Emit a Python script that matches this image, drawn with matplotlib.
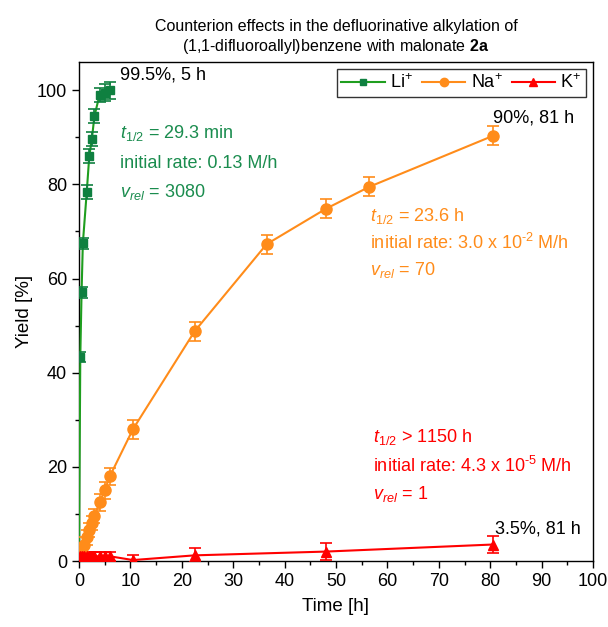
import numpy as np
import matplotlib.pyplot as plt

plt.rcParams['font.family'] = ['Liberation Sans', 'DejaVu Sans']
plt.rcParams['mathtext.fontset'] = 'custom'
plt.rcParams['mathtext.rm'] = 'Liberation Sans'
plt.rcParams['mathtext.it'] = 'Liberation Sans:italic'
plt.rcParams['mathtext.bf'] = 'Liberation Sans:bold'

# data
li_t = [0, 0.25, 0.5, 0.75, 1.5, 2, 2.5, 3, 4, 5, 6]
li_y = [0, 43.3, 57.1, 67.5, 78.3, 86.0, 89.6, 94.5, 99.0, 99.5, 100.0]
li_err = [0, 1.0, 1.2, 1.2, 1.5, 1.5, 1.5, 1.5, 1.5, 1.8, 1.8]

na_t = [0, 0.25, 0.5, 1, 1.5, 2, 2.5, 3, 4, 5, 6, 10.5, 22.5, 36.5, 48, 56.5, 80.5]
na_y = [0, 1.0, 2.0, 3.5, 5.0, 6.5, 8.0, 9.5, 12.5, 15.0, 18.0, 28.0, 48.8, 67.3, 74.8, 79.5, 90.3]
na_err = [0, 1.5, 1.5, 1.5, 1.5, 1.5, 1.5, 1.5, 1.8, 1.8, 1.8, 2.0, 2.0, 2.0, 2.0, 2.0, 2.0]

k_t = [0, 0.25, 0.5, 1, 1.5, 2, 2.5, 3, 4, 5, 6, 10.5, 22.5, 48, 80.5]
k_y = [0, 1.0, 1.0, 1.0, 1.0, 1.0, 1.0, 1.0, 1.0, 1.0, 1.0, 0.2, 1.2, 2.0, 3.5]
k_err = [0, 1.0, 1.0, 1.0, 1.0, 1.0, 1.0, 1.0, 1.0, 1.0, 1.0, 1.0, 1.5, 1.8, 1.8]

fig = plt.figure(figsize=(6.08, 6.27), dpi=100)
ax = fig.add_axes([79/608, 1-561/627, 514/608, 499/627])

green_line = '#1f9e1f'
green = '#0f8040'
green_txt = '#1a8c4e'
orange = '#ff8c1a'
red = '#ff0000'

ax.plot(li_t, li_y, color=green_line, lw=1.5, zorder=3)
ax.errorbar(li_t[1:], li_y[1:], yerr=li_err[1:], fmt='s', ms=6, color=green,
            ecolor=green, elinewidth=1.2, capsize=4, capthick=1.2, zorder=4)

ax.errorbar(na_t, na_y, yerr=na_err, fmt='-o', ms=8, color=orange, lw=1.5,
            elinewidth=1.2, capsize=4, capthick=1.2, zorder=3)

ax.errorbar(k_t, k_y, yerr=k_err, fmt='-^', ms=7, color=red, lw=1.5,
            elinewidth=1.2, capsize=4, capthick=1.2, zorder=3)

# legend handles without error bars
ax.plot([], [], color=green_line, lw=1.5, marker='s', ms=5, mfc=green, mec=green, label='Li$^{+}$')
ax.plot([], [], color=orange, lw=1.5, marker='o', ms=6, label='Na$^{+}$')
ax.plot([], [], color=red, lw=1.5, marker='^', ms=6, label='K$^{+}$')

ax.set_xlim(0, 100)
ax.set_ylim(0, 106)
ax.set_xticks(np.arange(0, 101, 10))
ax.set_xticks(np.arange(0, 101, 5), minor=True)
ax.set_yticks(np.arange(0, 101, 20))
ax.set_yticks(np.arange(0, 101, 10), minor=True)
ax.tick_params(which='major', direction='out', length=5, width=1, labelsize=13)
ax.tick_params(which='minor', direction='out', length=3, width=1)
for s in ax.spines.values():
    s.set_linewidth(1.0)

ax.set_xlabel('Time [h]', fontsize=13.5, labelpad=6)
ax.set_ylabel('Yield [%]', fontsize=13.5, labelpad=3)
ax.set_title('Counterion effects in the defluorinative alkylation of\n'
             '(1,1-difluoroallyl)benzene with malonate $\\mathbf{2a}$',
             fontsize=11.5, pad=8)

leg = ax.legend(loc='upper right', ncol=3, frameon=True, fancybox=False,
                edgecolor='black', fontsize=13, handlelength=2.4,
                columnspacing=0.5, handletextpad=0.3, borderpad=0.25,
                borderaxespad=0.4)
leg.get_frame().set_linewidth(1.0)

fs = 13
ax.text(7.9, 103.2, '99.5%, 5 h', fontsize=fs, va='center')
ax.text(7.9, 91.0, '$t_{\\mathit{1/2}}$ = 29.3 min', fontsize=fs, color=green_txt, va='center')
ax.text(7.9, 84.5, 'initial rate: 0.13 M/h', fontsize=fs, color=green_txt, va='center')
ax.text(7.9, 78.3, '$v_{rel}$ = 3080', fontsize=fs, color=green_txt, va='center')

ax.text(80.5, 94.0, '90%, 81 h', fontsize=fs, va='center')
ax.text(56.6, 73.2, '$t_{\\mathit{1/2}}$ = 23.6 h', fontsize=fs, color=orange, va='center')
ax.text(56.6, 67.5, 'initial rate: 3.0 x 10$^{\\text{-2}}$ M/h', fontsize=fs, color=orange, va='center')
ax.text(56.6, 61.8, '$v_{rel}$ = 70', fontsize=fs, color=orange, va='center')

ax.text(57.2, 26.3, '$t_{\\mathit{1/2}}$ > 1150 h', fontsize=fs, color=red, va='center')
ax.text(57.2, 20.2, 'initial rate: 4.3 x 10$^{\\text{-5}}$ M/h', fontsize=fs, color=red, va='center')
ax.text(57.2, 14.2, '$v_{rel}$ = 1', fontsize=fs, color=red, va='center')
ax.text(81.0, 6.9, '3.5%, 81 h', fontsize=fs, va='center')

fig.savefig('out.png', dpi=100)
